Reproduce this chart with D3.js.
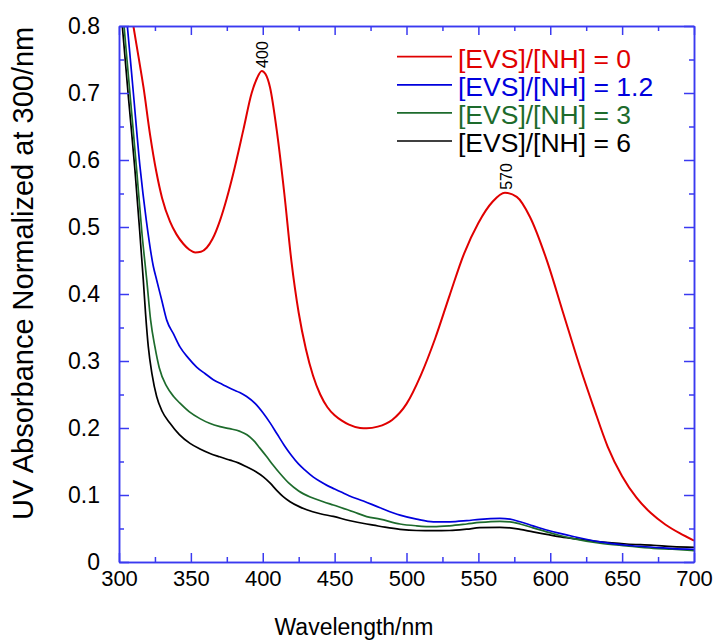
<!DOCTYPE html>
<html>
<head>
<meta charset="utf-8">
<script src="https://cdn.jsdelivr.net/npm/d3@7"></script>
<style>
  html, body { margin: 0; padding: 0; background: #fff; }
  svg { display: block; font-family: "Liberation Sans", Arial, Helvetica, sans-serif; }
</style>
</head>
<body>
<svg id="chart" width="717" height="640"></svg>
<script>
// ---------------- data ----------------
const xTicksMajor = [300, 350, 400, 450, 500, 550, 600, 650, 700];
const xTicksMinor = [325, 375, 425, 475, 525, 575, 625, 675];
const yTicksMajor = [0, 0.1, 0.2, 0.3, 0.4, 0.5, 0.6, 0.7, 0.8];
const yTicksMinor = [0.05, 0.15, 0.25, 0.35, 0.45, 0.55, 0.65, 0.75];

const seriesNames = ["[EVS]/[NH] = 0", "[EVS]/[NH] = 1.2", "[EVS]/[NH] = 3", "[EVS]/[NH] = 6"];
const seriesColors = ["#e00000", "#0000dd", "#1d6b2c", "#000000"];

const wlRed  = [306,310,313.5,317,321.6,326,330,335.5,340,344.7,349,353,357,361,365,370.3,375,379.5,386.5,392.3,396,399.3,402,405,410,415,420,425,430,435,440,445,450,455,460,467.7,472.3,480,490,500,510,520,530,540,550,560,568.5,576.7,585.9,597.5,609.1,620.7,630,640,650,660,670,680,690,700];
const absRed = [0.855,0.800,0.755,0.709,0.638,0.582,0.543,0.508,0.489,0.475,0.466,0.462,0.463,0.469,0.482,0.510,0.543,0.580,0.645,0.700,0.722,0.733,0.728,0.709,0.640,0.550,0.448,0.372,0.318,0.278,0.250,0.231,0.219,0.211,0.205,0.200,0.1995,0.202,0.212,0.236,0.279,0.334,0.398,0.460,0.506,0.538,0.551,0.545,0.515,0.451,0.371,0.291,0.232,0.172,0.128,0.096,0.073,0.056,0.043,0.032];

const wlBlue  = [300,305.8,310,314.6,319,323.9,326.2,329.7,333.2,338,342.4,348,354,360,365.6,372,379.5,384,388.8,395,400.4,405,410,415,420,425,430,435,440,445,450,455,460,470,481.6,495.5,507,518.7,530,541.9,551.1,565,572,579,588,597.5,606,616,634.6,653.2,671.7,685,700];
const absBlue = [0.93,0.800,0.700,0.590,0.510,0.441,0.421,0.391,0.361,0.340,0.321,0.305,0.291,0.281,0.272,0.265,0.257,0.253,0.247,0.236,0.222,0.208,0.191,0.174,0.159,0.146,0.136,0.127,0.120,0.114,0.109,0.104,0.099,0.091,0.081,0.070,0.064,0.060,0.060,0.0617,0.0637,0.065,0.064,0.060,0.054,0.0478,0.043,0.038,0.030,0.025,0.022,0.020,0.019];

const wlGreen  = [300,303.5,308,312.3,316,319.3,322,325,328,333.2,338,342.4,349,356.3,363,370.3,377,384.2,389,393.4,398,402.8,407,412,418,425,433,442.1,449.1,463,472.3,481.6,495.5,507,518.7,530,541.9,551,565,572,579,588,597.5,606,616,634.6,653,671.7,685,700];
const absGreen = [0.886,0.800,0.690,0.585,0.490,0.421,0.361,0.321,0.290,0.262,0.247,0.237,0.224,0.214,0.207,0.202,0.199,0.195,0.190,0.182,0.170,0.157,0.145,0.132,0.118,0.106,0.097,0.090,0.085,0.075,0.0677,0.064,0.0567,0.054,0.0527,0.054,0.0567,0.059,0.0607,0.060,0.0567,0.051,0.045,0.040,0.035,0.028,0.024,0.0204,0.019,0.017];

const wlBlack  = [300,302.3,306.5,311.1,314,316.9,318.5,320.4,323,326.2,330,335.5,342,349.4,356,363.3,370,377.2,383,388.8,395,400.4,405,409.7,414,419,425,430.6,440,449.1,460,472.3,477,485,495.5,507,518.7,530,541.9,551,565,572,579,588,597.5,606,616,634.6,653,671.7,685,700];
const absBlack = [0.855,0.800,0.695,0.585,0.505,0.421,0.370,0.321,0.280,0.247,0.225,0.207,0.190,0.177,0.169,0.162,0.157,0.152,0.148,0.142,0.135,0.127,0.118,0.107,0.098,0.090,0.083,0.078,0.072,0.068,0.062,0.0567,0.055,0.052,0.0488,0.047,0.0467,0.047,0.049,0.0512,0.0517,0.051,0.0488,0.045,0.0413,0.038,0.035,0.030,0.0269,0.025,0.023,0.022];

const peakWl  = [400, 570];
const peakAbs = [0.733, 0.551];
const peakLabels = ["400", "570"];

const xLabel = "Wavelength/nm";
const yLabel = "UV Absorbance Normalized at 300/nm";

// ---------------- layout ----------------
const svg = d3.select("#chart");
const L = 119, R = 694, T = 26, B = 562;
const axisColor = "#3a3af0";
const font = "'Liberation Sans', Arial, Helvetica, sans-serif";

const x = d3.scaleLinear().domain([300, 700]).range([L, R]);
const y = d3.scaleLinear().domain([0, 0.8]).range([B, T]);

const defs = svg.append("defs");
defs.append("clipPath").attr("id", "clip")
  .append("rect").attr("x", L).attr("y", T).attr("width", R - L).attr("height", B - T);

// ---------------- series ----------------
const series = [
  {wl: wlRed, v: absRed},
  {wl: wlBlue, v: absBlue},
  {wl: wlGreen, v: absGreen},
  {wl: wlBlack, v: absBlack}
];
const line = d3.line().x(d => x(d[0])).y(d => y(d[1])).curve(d3.curveMonotoneX);

const plot = svg.append("g").attr("clip-path", "url(#clip)");
[3, 2, 1, 0].forEach(i => {
  const s = series[i];
  const pts = s.wl.map((w, j) => [w, s.v[j]]);
  plot.append("path").datum(pts)
    .attr("d", line)
    .attr("fill", "none")
    .attr("stroke", seriesColors[i])
    .attr("stroke-width", i === 0 ? 2 : 1.7)
    .attr("stroke-linejoin", "round");
});

// ---------------- axes ----------------
function styleAxis(fs) {
  return g => {
    g.selectAll("path.domain").attr("stroke", axisColor).attr("stroke-width", 1.5);
    g.selectAll(".tick line").attr("stroke", axisColor).attr("stroke-width", 1.5);
    g.selectAll(".tick text").attr("fill", "#000").attr("font-size", fs).attr("font-family", font);
  };
}

// bottom
svg.append("g").attr("transform", `translate(0,${B})`)
  .call(d3.axisBottom(x).tickValues(xTicksMinor).tickSize(-5).tickSizeOuter(0).tickFormat(""))
  .call(styleAxis(22));
svg.append("g").attr("transform", `translate(0,${B})`)
  .call(d3.axisBottom(x).tickValues(xTicksMajor).tickSize(-9).tickSizeOuter(0).tickPadding(8).tickFormat(d3.format("d")))
  .call(styleAxis(22));
// top
svg.append("g").attr("transform", `translate(0,${T})`)
  .call(d3.axisTop(x).tickValues(xTicksMinor).tickSize(-5).tickSizeOuter(0).tickFormat(""))
  .call(styleAxis(22));
svg.append("g").attr("transform", `translate(0,${T})`)
  .call(d3.axisTop(x).tickValues(xTicksMajor).tickSize(-9).tickSizeOuter(0).tickFormat(""))
  .call(styleAxis(22));
// left
svg.append("g").attr("transform", `translate(${L},0)`)
  .call(d3.axisLeft(y).tickValues(yTicksMinor).tickSize(-5).tickSizeOuter(0).tickFormat(""))
  .call(styleAxis(23));
svg.append("g").attr("transform", `translate(${L},0)`)
  .call(d3.axisLeft(y).tickValues(yTicksMajor).tickSize(-10).tickSizeOuter(0).tickPadding(19)
    .tickFormat(d => d === 0 ? "0" : d3.format(".1f")(d)))
  .call(styleAxis(23));
// right
svg.append("g").attr("transform", `translate(${R},0)`)
  .call(d3.axisRight(y).tickValues(yTicksMinor).tickSize(-5).tickSizeOuter(0).tickFormat(""))
  .call(styleAxis(23));
svg.append("g").attr("transform", `translate(${R},0)`)
  .call(d3.axisRight(y).tickValues(yTicksMajor).tickSize(-10).tickSizeOuter(0).tickFormat(""))
  .call(styleAxis(23));

// ---------------- axis titles ----------------
svg.append("text")
  .attr("x", 354).attr("y", 635)
  .attr("text-anchor", "middle")
  .attr("font-size", 23).attr("fill", "#000")
  .text(xLabel);

svg.append("text")
  .attr("transform", "translate(33,520) rotate(-90)")
  .attr("text-anchor", "start")
  .attr("font-size", 29).attr("fill", "#000")
  .text(yLabel);

// ---------------- peak annotations ----------------
peakWl.forEach((w, i) => {
  svg.append("text")
    .attr("transform", `translate(${x(w) + 5},${y(peakAbs[i]) - 3}) rotate(-90)`)
    .attr("text-anchor", "start")
    .attr("font-size", 16).attr("fill", "#000")
    .text(peakLabels[i]);
});

// ---------------- legend ----------------
const legend = svg.append("g");
seriesNames.forEach((name, i) => {
  const ly = 56.7 + i * 28.1;
  legend.append("line")
    .attr("x1", 397).attr("x2", 452).attr("y1", ly).attr("y2", ly)
    .attr("stroke", seriesColors[i]).attr("stroke-width", 1.7);
  legend.append("text")
    .attr("x", 458).attr("y", ly + 11)
    .attr("font-size", 26.5).attr("fill", seriesColors[i])
    .text(name);
});
</script>
</body>
</html>
